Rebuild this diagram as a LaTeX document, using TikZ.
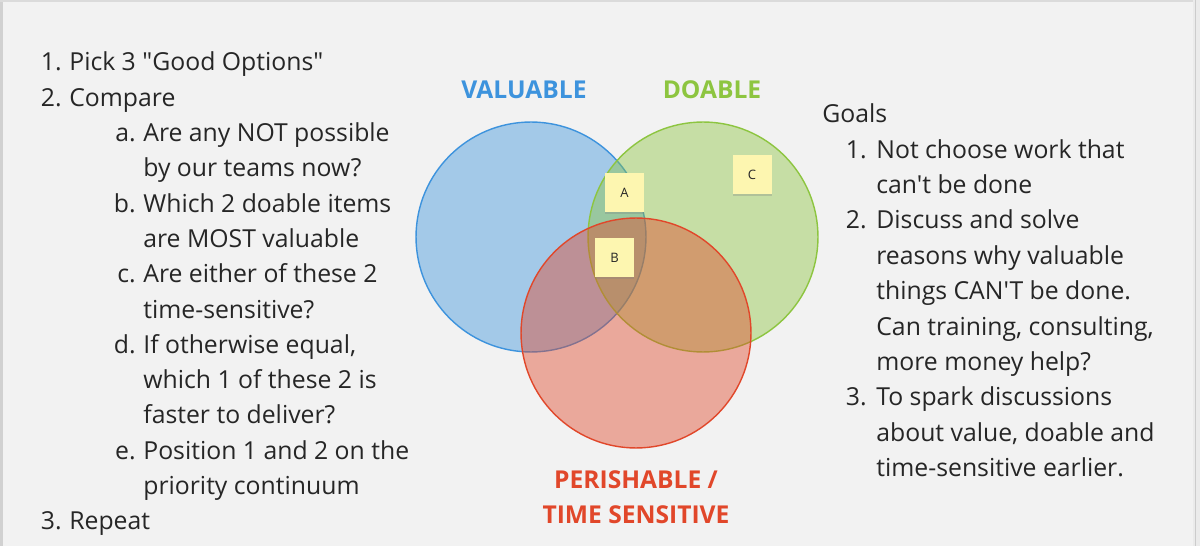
\documentclass[tikz,border=0pt]{standalone}
\usepackage{fontspec}
\setmainfont{Open Sans}[Ligatures=TeXReset]
\usetikzlibrary{shadows}

\definecolor{bg}{HTML}{F2F2F2}
\definecolor{ink}{HTML}{262626}
\definecolor{valblue}{HTML}{3D93DD}
\definecolor{doagreen}{HTML}{8DC540}
\definecolor{perred}{HTML}{E1472A}
\definecolor{notefill}{HTML}{FDF6B0}

\begin{document}
\begin{tikzpicture}[x=0.02cm, y=-0.02cm,
    txt/.style={anchor=base west, inner sep=0pt, text=ink, font=\fontsize{14.1}{17}\selectfont},
    num/.style={anchor=base east, inner sep=0pt, text=ink, font=\fontsize{14.1}{17}\selectfont},
    head/.style={inner sep=0pt, font=\fontsize{14}{17}\selectfont\bfseries},
    set/.style={line width=0.8pt, fill opacity=0.43},
    stickynote/.style={fill=notefill, minimum size=0.78cm, inner sep=0pt, text=ink,
        font=\fontsize{7.4}{8}\selectfont,
        drop shadow={shadow xshift=0pt, shadow yshift=-1.3pt, opacity=0.3}}]
    % background and frame
    \fill[bg] (0,0) rectangle (1200,546);
    \useasboundingbox (0,0) rectangle (1200,546);
    \fill[black!18] (0,0) rectangle (3,546);
    \fill[black!14] (0,0) rectangle (1200,2.5);
    \fill[black!8] (1193,0) rectangle (1200,546);
    \draw[black!20] (1195.5,0) -- (1195.5,546);

    % the three sets
    \draw[set, valblue, fill=valblue] (531,237) circle [radius=2.3cm];
    \draw[set, doagreen, fill=doagreen] (703,237) circle [radius=2.3cm];
    \draw[set, perred, fill=perred] (636,333) circle [radius=2.3cm];

    \node[head, valblue] (valuable) at (524,90) {VALUABLE};
    \node[head, doagreen] (doable) at (712,90) {DOABLE};
    \node[head, perred, anchor=base] (perish) at (636,489) {PERISHABLE /};
    \node[head, perred, anchor=base] (timesens) at (636,524) {TIME SENSITIVE};

    % sticky notes
    \node[stickynote] (noteA) at (624.5,192.5) {A};
    \node[stickynote] (noteB) at (614.5,257.5) {B};
    \node[stickynote] (noteC) at (752,174.5) {C};

    % left list
    \foreach \xx/\txt [count=\k from 0] in {69/{Pick 3 "Good Options"}, 69/Compare,
        143/{Are any NOT possible}, 143/{by our teams now?}, 143/{Which 2 doable items},
        143/{are MOST valuable}, 143/{Are either of these 2}, 143/{time-sensitive?},
        143/{If otherwise equal,}, 143/{which 1 of these 2 is}, 143/{faster to deliver?},
        143/{Position 1 and 2 on the}, 143/{priority continuum}, 69/Repeat}
        \node[txt] (left\k) at (\xx, 71+35.3*\k) {\txt};
    \foreach \k/\m in {0/1., 1/2., 13/3.}
        \node[num] (lnum\k) at (62, 71+35.3*\k) {\m};
    \foreach \k/\m in {2/a., 4/b., 6/c., 8/d., 11/e.}
        \node[num] (lsub\k) at (136, 71+35.3*\k) {\m};

    % goals
    \node[txt] (goals) at (822,122.7) {Goals};
    \foreach \txt [count=\k from 1] in {{Not choose work that}, {can't be done},
        {Discuss and solve}, {reasons why valuable}, {things CAN'T be done.},
        {Can training, consulting,}, {more money help?}, {To spark discussions},
        {about value, doable and}, {time-sensitive earlier.}}
        \node[txt] (right\k) at (876, 122.7+35.4*\k) {\txt};
    \foreach \k/\m in {1/1., 3/2., 8/3.}
        \node[num] (rnum\k) at (867, 122.7+35.4*\k) {\m};
\end{tikzpicture}
\end{document}
